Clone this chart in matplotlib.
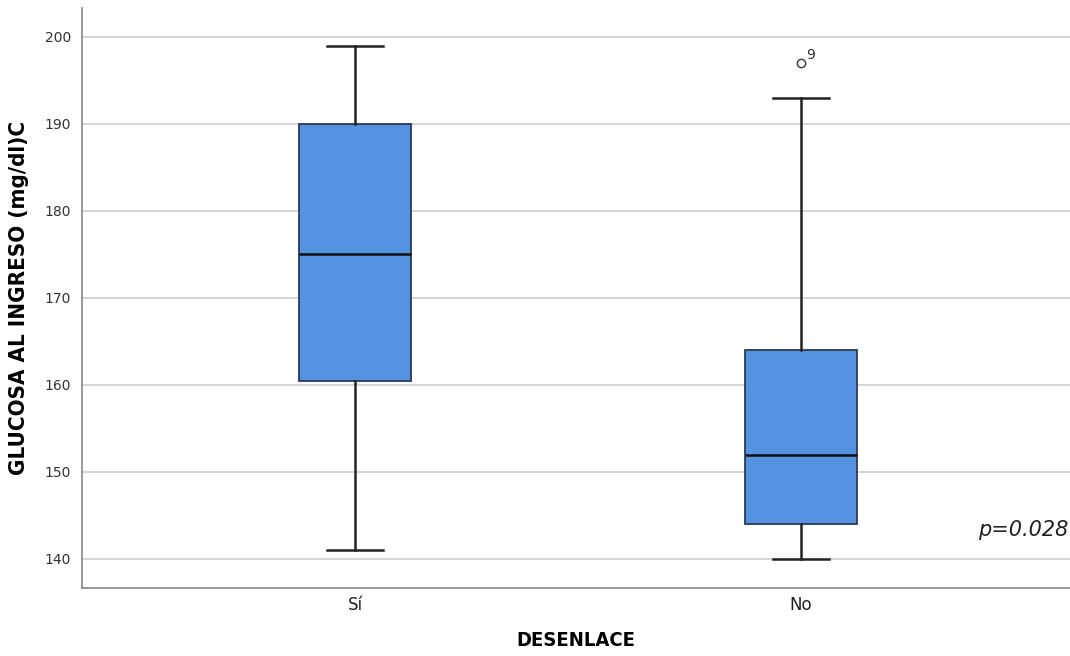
import matplotlib
matplotlib.use("Agg")
import matplotlib.pyplot as plt

# Boxplot summary stats
groups = ["Sí", "No"]
whisker_low = [141, 140]
q1 = [160.5, 144]
medians = [175, 152]
q3 = [190, 164]
whisker_high = [199, 193]
outliers = [[], [197]]
outlier_ids = [[], ["9"]]

yticks = [140, 150, 160, 170, 180, 190, 200]
ylabel = "GLUCOSA AL INGRESO (mg/dl)C"
xlabel = "DESENLACE"
p_text = "p=0.028"

box_color = "#5592e0"

stats = []
for i, g in enumerate(groups):
    stats.append({
        "label": g, "whislo": whisker_low[i], "q1": q1[i], "med": medians[i],
        "q3": q3[i], "whishi": whisker_high[i], "fliers": outliers[i],
    })

fig = plt.figure(figsize=(10.7, 6.56), dpi=100)
ax = fig.add_axes([0.0766, 0.1037, 0.9234, 0.8843])

ax.set_axisbelow(True)
ax.yaxis.grid(True, color="#d4d4d4", linewidth=1.4)

positions = list(range(len(groups)))
ax.bxp(stats, positions=positions, widths=0.253, patch_artist=True,
       boxprops=dict(facecolor=box_color, edgecolor="#2b3a55", linewidth=1.3),
       medianprops=dict(color="#111111", linewidth=1.8),
       whiskerprops=dict(color="#222222", linewidth=1.8),
       capprops=dict(color="#222222", linewidth=1.8),
       capwidths=0.126,
       flierprops=dict(marker="o", markerfacecolor="white", markeredgecolor="#444444",
                       markersize=6, markeredgewidth=1.1))

# case number next to the outlier, SPSS style
for i, ids in enumerate(outlier_ids):
    for v, lab in zip(outliers[i], ids):
        ax.annotate(lab, (positions[i], v), xytext=(4, 3), textcoords="offset points",
                    fontsize=10, color="#333333")

ax.set_xlim(-0.612, 1.603)
ax.set_ylim(136.67, 203.33)
ax.set_yticks(yticks)
ax.tick_params(axis="both", length=0)
ax.tick_params(axis="y", labelsize=10, labelcolor="#333333", pad=8)
ax.tick_params(axis="x", labelsize=12, labelcolor="#222222", pad=6)

for s in ["top", "right"]:
    ax.spines[s].set_visible(False)
for s in ["left", "bottom"]:
    ax.spines[s].set_color("#888888")
    ax.spines[s].set_linewidth(1.2)

ax.set_ylabel(ylabel, fontweight="bold", fontstretch="condensed", fontsize=16, labelpad=11)
ax.set_xlabel(xlabel, fontweight="bold", fontstretch="condensed", fontsize=14.5, labelpad=12)

ax.text(0.998, 0.1, p_text, transform=ax.transAxes, ha="right", va="center",
        fontsize=15, fontstyle="italic", color="#222222")

fig.savefig("out.png", dpi=100)
